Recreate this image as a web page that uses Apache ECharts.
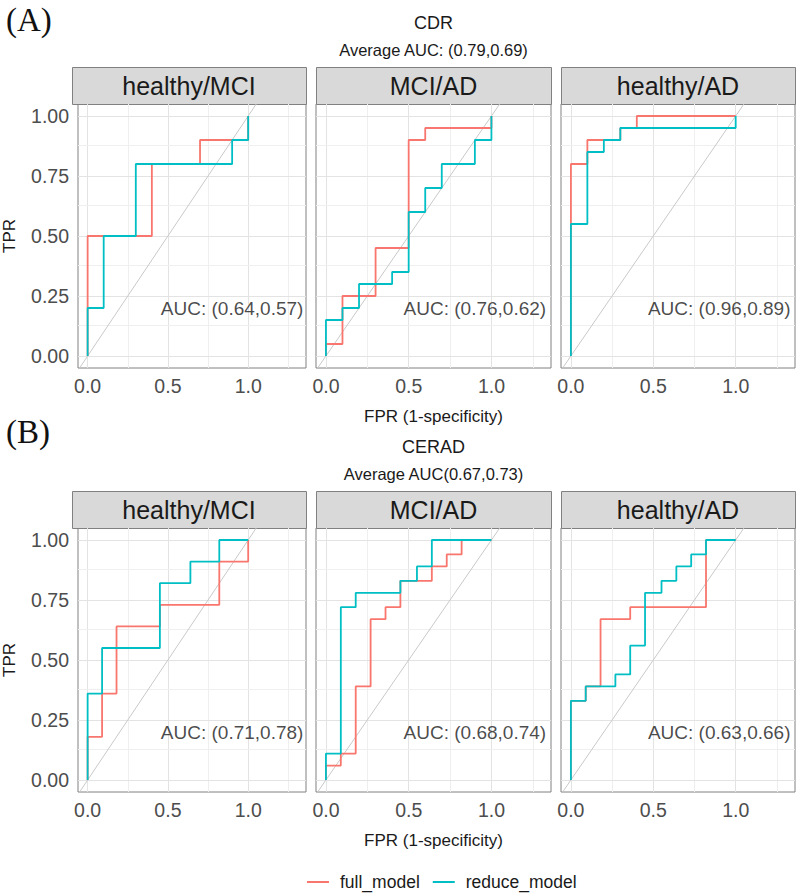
<!DOCTYPE html>
<html><head><meta charset="utf-8">
<script src="https://cdn.jsdelivr.net/npm/echarts@6/dist/echarts.min.js"></script>
<style>html,body{margin:0;padding:0;background:#fff}#c{width:800px;height:896px}</style>
</head><body><div id="c"></div>
<script>
// ---------- data ----------
const panelNames = ['healthy/MCI', 'MCI/AD', 'healthy/AD'];
const seriesNames = ['full_model', 'reduce_model'];
const rowTags = ['(A)', '(B)'];
const rowTitles = ['CDR', 'CERAD'];
const rowSubtitles = ['Average AUC: (0.79,0.69)', 'Average AUC(0.67,0.73)'];
const aucLabels = [
  ['AUC: (0.64,0.57)', 'AUC: (0.76,0.62)', 'AUC: (0.96,0.89)'],
  ['AUC: (0.71,0.78)', 'AUC: (0.68,0.74)', 'AUC: (0.63,0.66)']
];
const aucLabelPos = [0.9, 0.2];
const xTicks = [0, 0.5, 1];
const xMinorGrid = [0.25, 0.75, 1.25];
const yTicks = [0, 0.25, 0.5, 0.75, 1];
const yMinorGrid = [0.125, 0.375, 0.625, 0.875];
const diagonal = [-0.05, 1.05];
const xTitle = 'FPR (1-specificity)';
const yTitle = 'TPR';

// ROC curves: [FPR, TPR]
const cdrHealthyMciFull   = [[0,0],[0,0.5],[0.4,0.5],[0.4,0.8],[0.7,0.8],[0.7,0.9],[1,0.9],[1,1]];
const cdrHealthyMciReduce = [[0,0],[0,0.2],[0.1,0.2],[0.1,0.5],[0.3,0.5],[0.3,0.8],[0.9,0.8],[0.9,0.9],[1,0.9],[1,1]];
const cdrMciAdFull   = [[0,0],[0,0.05],[0.1,0.05],[0.1,0.25],[0.3,0.25],[0.3,0.45],[0.5,0.45],[0.5,0.9],[0.6,0.9],[0.6,0.95],[1,0.95],[1,1]];
const cdrMciAdReduce = [[0,0],[0,0.15],[0.1,0.15],[0.1,0.2],[0.2,0.2],[0.2,0.3],[0.4,0.3],[0.4,0.35],[0.5,0.35],[0.5,0.6],[0.6,0.6],[0.6,0.7],[0.7,0.7],[0.7,0.8],[0.9,0.8],[0.9,0.9],[1,0.9],[1,1]];
const cdrHealthyAdFull   = [[0,0],[0,0.8],[0.1,0.8],[0.1,0.9],[0.3,0.9],[0.3,0.95],[0.4,0.95],[0.4,1],[1,1]];
const cdrHealthyAdReduce = [[0,0],[0,0.55],[0.1,0.55],[0.1,0.85],[0.2,0.85],[0.2,0.9],[0.3,0.9],[0.3,0.95],[1,0.95],[1,1]];

const ceradHealthyMciFull   = [[0,0],[0,0.18],[0.09,0.18],[0.09,0.36],[0.18,0.36],[0.18,0.64],[0.45,0.64],[0.45,0.73],[0.82,0.73],[0.82,0.91],[1,0.91],[1,1]];
const ceradHealthyMciReduce = [[0,0],[0,0.36],[0.09,0.36],[0.09,0.55],[0.45,0.55],[0.45,0.82],[0.64,0.82],[0.64,0.91],[0.82,0.91],[0.82,1],[1,1]];
const ceradMciAdFull   = [[0,0],[0,0.06],[0.09,0.06],[0.09,0.11],[0.18,0.11],[0.18,0.39],[0.27,0.39],[0.27,0.67],[0.36,0.67],[0.36,0.72],[0.45,0.72],[0.45,0.83],[0.64,0.83],[0.64,0.89],[0.73,0.89],[0.73,0.94],[0.82,0.94],[0.82,1],[1,1]];
const ceradMciAdReduce = [[0,0],[0,0.11],[0.09,0.11],[0.09,0.72],[0.18,0.72],[0.18,0.78],[0.45,0.78],[0.45,0.83],[0.55,0.83],[0.55,0.89],[0.64,0.89],[0.64,1],[1,1]];
const ceradHealthyAdFull   = [[0,0],[0,0.33],[0.09,0.33],[0.09,0.39],[0.18,0.39],[0.18,0.67],[0.36,0.67],[0.36,0.72],[0.82,0.72],[0.82,1],[1,1]];
const ceradHealthyAdReduce = [[0,0],[0,0.33],[0.09,0.33],[0.09,0.39],[0.27,0.39],[0.27,0.44],[0.36,0.44],[0.36,0.56],[0.45,0.56],[0.45,0.78],[0.55,0.78],[0.55,0.83],[0.64,0.83],[0.64,0.89],[0.73,0.89],[0.73,0.94],[0.82,0.94],[0.82,1],[1,1]];

const curves = [
  [[cdrHealthyMciFull, cdrHealthyMciReduce], [cdrMciAdFull, cdrMciAdReduce], [cdrHealthyAdFull, cdrHealthyAdReduce]],
  [[ceradHealthyMciFull, ceradHealthyMciReduce], [ceradMciAdFull, ceradMciAdReduce], [ceradHealthyAdFull, ceradHealthyAdReduce]]
];

// ---------- layout / style ----------
const FONT = '"Liberation Sans", Arial, sans-serif';
const colors = ['#F8766D', '#00BFC4'];
const colLeft = [72, 316, 561];
const colWidth = [234, 235, 234];
const rowTop = [104, 528];
const rowHeight = 264;
const stripH = 37;
const xRange = [-0.06, 1.36];
const yRange = [-0.05, 1.05];
const borderColor = '#808080';

const grids = [], xAxes = [], yAxes = [], series = [], graphics = [];
let gi = 0;
for (let r = 0; r < 2; r++) {
  const centerX = (colLeft[0] + colLeft[2] + colWidth[2]) / 2;
  graphics.push({type: 'text', x: 6, y: rowTop[r] - 84 + (r === 1 ? -12 : 0), style: {text: rowTags[r], font: '33px "Liberation Serif", "Times New Roman", serif', fill: '#111', align: 'left', verticalAlign: 'middle'}});
  graphics.push({type: 'text', x: centerX, y: rowTop[r] - 81, style: {text: rowTitles[r], font: '18px ' + FONT, fill: '#1a1a1a', align: 'center', verticalAlign: 'middle'}});
  graphics.push({type: 'text', x: centerX, y: rowTop[r] - 54, style: {text: rowSubtitles[r], font: '16.5px ' + FONT, fill: '#1a1a1a', align: 'center', verticalAlign: 'middle'}});
  for (let c = 0; c < 3; c++) {
    grids.push({left: colLeft[c], top: rowTop[r], width: colWidth[c], height: rowHeight, show: true, borderColor: borderColor, borderWidth: 1, backgroundColor: '#fff', containLabel: false});
    graphics.push({type: 'rect', shape: {x: colLeft[c] + 0.5, y: rowTop[r] - stripH + 0.5, width: colWidth[c], height: stripH}, style: {fill: '#D9D9D9', stroke: borderColor, lineWidth: 1}});
    graphics.push({type: 'text', x: colLeft[c] + colWidth[c] / 2, y: rowTop[r] - stripH / 2, style: {text: panelNames[c], font: '25px ' + FONT, fill: '#1a1a1a', align: 'center', verticalAlign: 'middle'}});
    xAxes.push({
      gridIndex: gi, type: 'value', min: xRange[0], max: xRange[1],
      axisLine: {show: false}, splitLine: {show: false},
      axisTick: {show: true, customValues: xTicks, length: 6, lineStyle: {color: '#555', width: 1}},
      axisLabel: {show: true, customValues: xTicks, formatter: v => v.toFixed(1), margin: 8, fontSize: 19.5, color: '#4D4D4D', fontFamily: FONT},
      name: c === 1 ? xTitle : '', nameLocation: 'middle', nameGap: 40,
      nameTextStyle: {fontSize: 17, color: '#1a1a1a', fontFamily: FONT}
    });
    yAxes.push({
      gridIndex: gi, type: 'value', min: yRange[0], max: yRange[1],
      axisLine: {show: false}, splitLine: {show: false},
      axisTick: {show: c === 0, customValues: yTicks, length: 6, lineStyle: {color: '#555', width: 1}},
      axisLabel: {show: c === 0, customValues: yTicks, formatter: v => v.toFixed(2), margin: 9, fontSize: 19.5, color: '#4D4D4D', fontFamily: FONT},
      name: c === 0 ? yTitle : '', nameLocation: 'middle', nameGap: 60, nameRotate: 90,
      nameTextStyle: {fontSize: 17, color: '#1a1a1a', fontFamily: FONT}
    });
    const gridLines = [];
    xTicks.forEach(v => gridLines.push({xAxis: v, lineStyle: {color: '#E3E3E3', width: 1, type: 'solid'}}));
    xMinorGrid.forEach(v => gridLines.push({xAxis: v, lineStyle: {color: '#EFEFEF', width: 1, type: 'solid'}}));
    yTicks.forEach(v => gridLines.push({yAxis: v, lineStyle: {color: '#E3E3E3', width: 1, type: 'solid'}}));
    yMinorGrid.forEach(v => gridLines.push({yAxis: v, lineStyle: {color: '#EFEFEF', width: 1, type: 'solid'}}));
    series.push({
      type: 'line', xAxisIndex: gi, yAxisIndex: gi, data: [], silent: true, z: 1,
      markLine: {silent: true, symbol: 'none', z: 1, label: {show: false}, animation: false, data: gridLines}
    });
    series.push({
      type: 'line', xAxisIndex: gi, yAxisIndex: gi, data: diagonal.map(v => [v, v]),
      symbol: 'none', silent: true, z: 7, lineStyle: {color: '#C9C9C9', width: 1}
    });
    for (let s = 0; s < 2; s++) {
      series.push({
        name: seriesNames[s], type: 'line', xAxisIndex: gi, yAxisIndex: gi,
        data: curves[r][c][s], symbol: 'none', showSymbol: false, z: 10 + s,
        color: colors[s], lineStyle: {color: colors[s], width: 1.8}
      });
    }
    series.push({
      type: 'scatter', xAxisIndex: gi, yAxisIndex: gi, data: [aucLabelPos], symbolSize: 0, z: 12, silent: true,
      itemStyle: {color: 'rgba(0,0,0,0)'},
      label: {show: true, position: 'inside', formatter: aucLabels[r][c], fontSize: 19, color: '#1a1a1a', fontFamily: FONT}
    });
    gi++;
  }
}

const chart = echarts.init(document.getElementById('c'), null, {renderer: 'svg'});
chart.setOption({
  animation: false,
  backgroundColor: '#fff',
  grid: grids, xAxis: xAxes, yAxis: yAxes, series: series,
  graphic: graphics,
  legend: {
    data: seriesNames.map(n => ({name: n, icon: 'rect'})), left: 307, top: 873, padding: 0,
    itemWidth: 22, itemHeight: 2, itemGap: 13,
    textStyle: {fontSize: 17.5, color: '#1a1a1a', fontFamily: FONT, padding: [0, 0, 0, 6]}
  }
});
</script></body></html>
